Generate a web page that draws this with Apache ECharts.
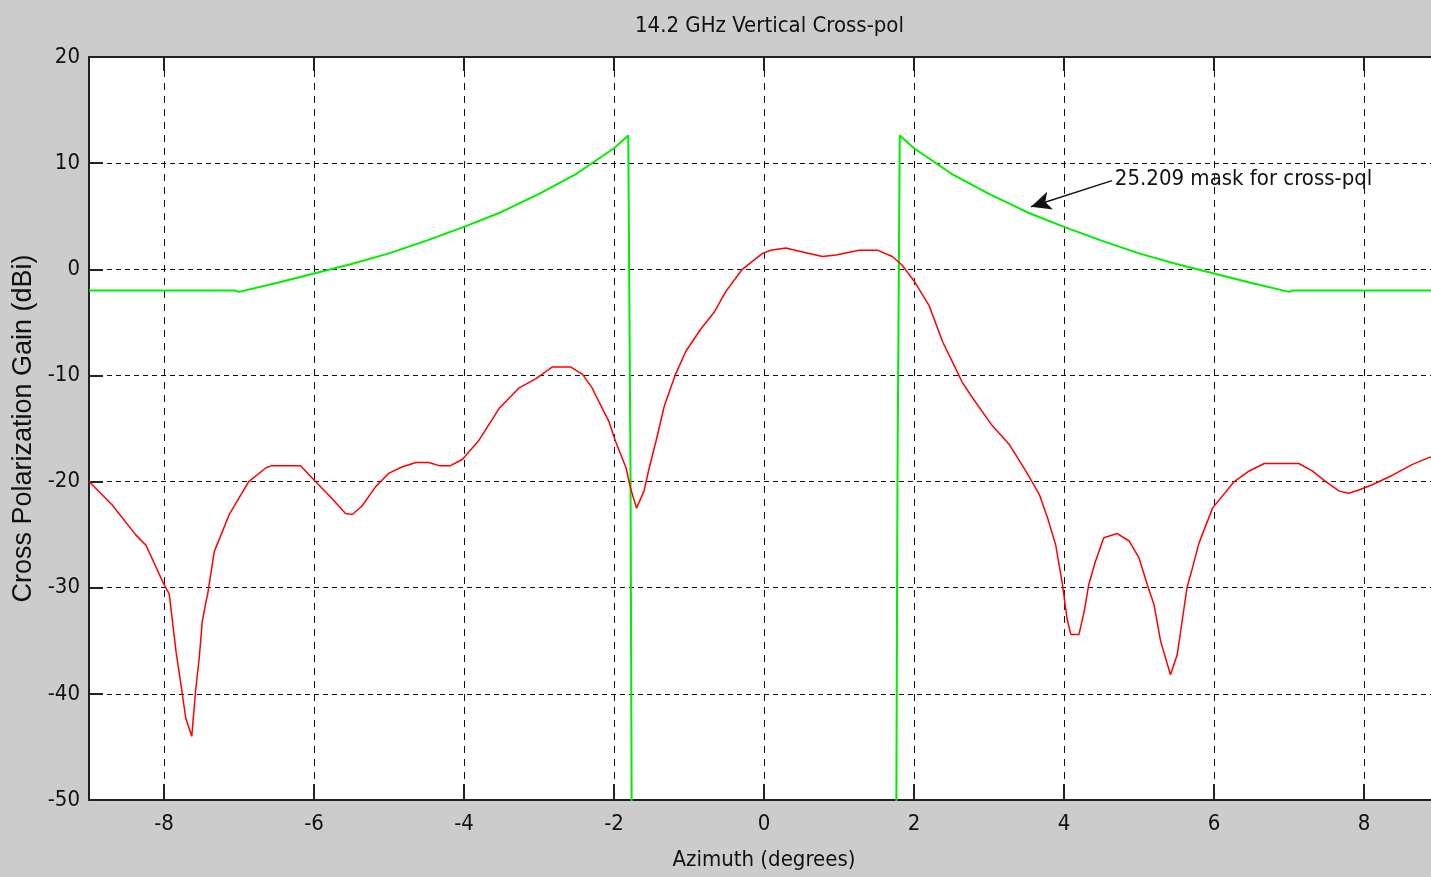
<!DOCTYPE html>
<html>
<head>
<meta charset="utf-8">
<title>14.2 GHz Vertical Cross-pol</title>
<script src="https://cdn.jsdelivr.net/npm/echarts@6/dist/echarts.min.js"></script>
<style>
    html, body { margin: 0; padding: 0; background: #cccccc; }
    #chart { width: 1431px; height: 877px; }
</style>
</head>
<body>
<div id="chart"></div>
<script>
// measured cross-pol pattern (azimuth deg, gain dBi)
const redAz = [
    -9.00, -8.69, -8.38, -8.24, -8.02, -7.93, -7.84, -7.76, -7.71, -7.63,
    -7.58, -7.53, -7.49, -7.44, -7.42, -7.33, -7.13, -6.87, -6.64, -6.56,
    -6.18, -5.98, -5.76, -5.58, -5.49, -5.36, -5.18, -5.00, -4.82, -4.64,
    -4.47, -4.33, -4.18, -4.02, -3.80, -3.53, -3.27, -3.04, -2.82, -2.58,
    -2.42, -2.29, -2.20, -2.07, -1.98, -1.84, -1.78, -1.70, -1.60, -1.53,
    -1.44, -1.33, -1.18, -1.04, -0.84, -0.67, -0.51, -0.29, -0.02, 0.09,
    0.29, 0.47, 0.78, 0.96, 1.27, 1.51, 1.71, 1.84, 2.00, 2.20,
    2.38, 2.51, 2.64, 2.78, 3.04, 3.27, 3.49, 3.67, 3.78, 3.89,
    3.98, 4.04, 4.09, 4.20, 4.27, 4.33, 4.42, 4.53, 4.71, 4.87,
    5.00, 5.11, 5.20, 5.29, 5.42, 5.51, 5.58, 5.64, 5.71, 5.80,
    5.98, 6.27, 6.47, 6.67, 7.13, 7.31, 7.49, 7.67, 7.80, 7.93,
    8.11, 8.38, 8.64, 8.88, 9.00
];
const redGain = [
    -20.0, -22.2, -25.0, -26.0, -29.4, -30.6, -36.0, -39.8, -42.3, -44.0,
    -39.8, -36.6, -33.2, -31.3, -30.7, -26.6, -23.1, -20.0, -18.7, -18.5,
    -18.5, -20.0, -21.6, -23.0, -23.1, -22.3, -20.5, -19.2, -18.6, -18.2,
    -18.2, -18.5, -18.5, -17.9, -16.1, -13.1, -11.2, -10.3, -9.2, -9.2,
    -9.9, -11.2, -12.5, -14.3, -16.2, -18.7, -20.6, -22.5, -20.9, -18.7,
    -16.2, -12.9, -9.9, -7.7, -5.6, -4.1, -2.1, 0.0, 1.5, 1.8,
    2.0, 1.7, 1.2, 1.35, 1.8, 1.8, 1.2, 0.4, -1.1, -3.4,
    -6.8, -8.7, -10.6, -12.1, -14.7, -16.5, -19.0, -21.2, -23.4, -26.0,
    -29.7, -32.9, -34.4, -34.4, -32.2, -29.7, -27.5, -25.3, -24.9, -25.6,
    -27.2, -29.7, -31.6, -35.1, -38.2, -36.3, -32.9, -30.0, -28.2, -25.8,
    -22.5, -20.0, -19.0, -18.3, -18.3, -19.0, -20.0, -20.9, -21.1, -20.8,
    -20.3, -19.4, -18.4, -17.7, -17.5
];

// 25.209 cross-pol mask
const maskAz = [
    -9.00, -7.05, -7.00, -6.50, -6.00, -5.50, -5.00, -4.50, -4.00, -3.50,
    -3.00, -2.50, -2.00, -1.81, -1.80, -1.78, -1.76, 1.76, 1.78, 1.80,
    1.81, 2.00, 2.50, 3.00, 3.50, 4.00, 4.50, 5.00, 5.50, 6.00,
    6.50, 7.00, 7.05, 9.00
];
const maskGain = [
    -2.0, -2.0, -2.13, -1.3, -0.4, 0.5, 1.5, 2.7, 4.0, 5.4,
    7.1, 9.0, 11.4, 12.6, 2.0, -19.0, -60.0, -60.0, -19.0, 2.0,
    12.6, 11.4, 9.0, 7.1, 5.4, 4.0, 2.7, 1.5, 0.5, -0.4,
    -1.3, -2.13, -2.0, -2.0
];

const xTicks = [-8, -6, -4, -2, 0, 2, 4, 6, 8];
const annotationText = '25.209 mask for cross-pql';
const annotationFrom = [4.64, 8.35];
const annotationTo = [3.56, 5.9];

const narrow = '"Liberation Sans Narrow", "Arial Narrow", "DejaVu Sans Condensed", sans-serif';

function zip (xs, ys) {
    return xs.map((x, i) => [x, ys[i]]);
}

const chart = echarts.init(document.getElementById('chart'));

const gridLine = (dash) => ({
    show: true,
    lineStyle: { color: '#111', width: 1, type: dash }
});

chart.setOption({
    animation: false,
    backgroundColor: '#cccccc',
    // title sits over the middle of the axes, which run past the right edge
    title: {
        text: '14.2 GHz Vertical Cross-pol',
        left: 630,
        top: 10,
        textStyle: {
            fontFamily: narrow,
            fontSize: 22,
            fontWeight: 'normal',
            color: '#111'
        }
    },
    grid: {
        left: 89,
        top: 57,
        width: 1350,
        height: 743,
        outerBoundsMode: 'none',
        containLabel: false,
        show: true,
        backgroundColor: '#ffffff',
        borderWidth: 0
    },
    xAxis: [
        {
            type: 'value',
            min: -9,
            max: 9,
            name: 'Azimuth (degrees)',
            nameLocation: 'middle',
            nameGap: 49,
            nameTextStyle: { fontFamily: narrow, fontSize: 22, color: '#111' },
            axisLine: { show: true, onZero: false, lineStyle: { color: '#222', width: 2 } },
            axisTick: { show: true, inside: true, length: 16, customValues: xTicks, lineStyle: { color: '#222', width: 2 } },
            axisLabel: { customValues: xTicks, margin: 13, fontFamily: narrow, fontSize: 22, color: '#111' },
            splitLine: gridLine([7, 6])
        },
        {
            type: 'value',
            position: 'top',
            min: -9,
            max: 9,
            axisLine: { show: true, onZero: false, lineStyle: { color: '#222', width: 2 } },
            axisTick: { show: true, inside: true, length: 14, customValues: xTicks, lineStyle: { color: '#222', width: 2 } },
            axisLabel: { show: false },
            splitLine: { show: false }
        }
    ],
    yAxis: {
        type: 'value',
        min: -50,
        max: 20,
        interval: 10,
        name: 'Cross Polarization Gain (dBi)',
        nameLocation: 'middle',
        nameGap: 52,
        nameTextStyle: { fontFamily: '"Liberation Sans", Arial, sans-serif', fontSize: 27, color: '#111' },
        axisLine: { show: true, onZero: false, lineStyle: { color: '#222', width: 2 } },
        axisTick: { show: true, inside: true, length: 14, lineStyle: { color: '#222', width: 2 } },
        axisLabel: { margin: 9, fontFamily: narrow, fontSize: 22, color: '#111' },
        splitLine: gridLine([5, 4])
    },
    series: [
        {
            name: 'mask',
            type: 'line',
            data: zip(maskAz, maskGain),
            showSymbol: false,
            clip: true,
            lineStyle: { color: '#00ee00', width: 2 },
            markLine: {
                silent: true,
                symbol: ['none', 'arrow'],
                symbolSize: [14, 20],
                lineStyle: { color: '#111', width: 1.5, type: 'solid' },
                label: {
                    show: true,
                    position: 'start',
                    distance: 3,
                    formatter: annotationText,
                    fontFamily: narrow,
                    fontSize: 22,
                    color: '#111'
                },
                data: [[
                    { coord: annotationFrom },
                    { coord: annotationTo }
                ]]
            }
        },
        {
            name: 'cross-pol',
            type: 'line',
            data: zip(redAz, redGain),
            showSymbol: false,
            clip: true,
            lineStyle: { color: '#ff0000', width: 1.5 }
        }
    ]
});
</script>
</body>
</html>
